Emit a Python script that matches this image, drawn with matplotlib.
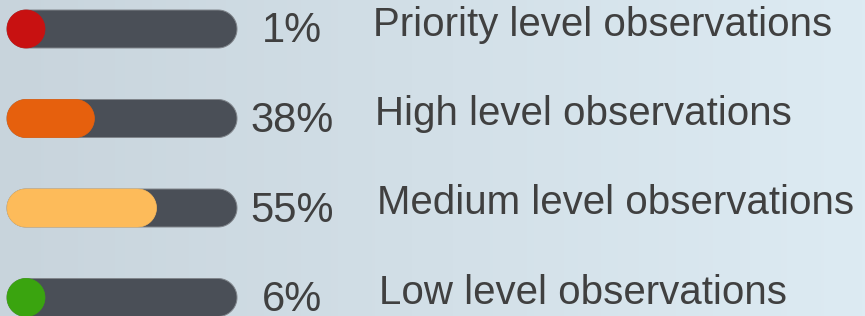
import numpy as np
import matplotlib
matplotlib.use("Agg")
import matplotlib.pyplot as plt
from matplotlib.patches import Polygon

# Daten
levels = ["Priority level observations", "High level observations",
          "Medium level observations", "Low level observations"]
percent_labels = ["1%", "38%", "55%", "6%"]
fill_values = [1, 38, 65, 6]   # length of the coloured fill as drawn (0-100)
fill_colors = ["#c81111", "#e6600d", "#fdbb5a", "#3aa40f"]

plt.rcParams['font.family'] = ['Liberation Sans', 'DejaVu Sans']

W, H = 865, 316
fig = plt.figure(figsize=(W / 100, H / 100), dpi=100)
ax = fig.add_axes([0, 0, 1, 1])
ax.set_xlim(0, W)
ax.set_ylim(H, 0)
ax.axis('off')

# Hintergrund-Verlauf
grad = np.linspace(0, 1, 256)
left = np.array([200, 212, 220]) / 255
right = np.array([221, 235, 243]) / 255
img = left[None, :] * (1 - grad[:, None]) + right[None, :] * grad[:, None]
ax.imshow(img[None, :, :], extent=[0, W, H, 0], aspect='auto', zorder=0)


def pill(x, yc, w, h, **kw):
    """Abgerundeter Balken (Pillenform) als Polygon."""
    r = h / 2
    t = np.linspace(-np.pi / 2, np.pi / 2, 40)
    right_x = x + w - r + r * np.cos(t)
    right_y = yc + r * np.sin(t)
    left_x = x + r - r * np.cos(t[::-1])
    left_y = yc + r * np.sin(t[::-1])
    pts = np.column_stack([np.r_[right_x, left_x], np.r_[right_y, left_y]])
    return Polygon(pts, closed=True, **kw)


track_x = 7
track_w = 230
bar_h = 38
first_y = 29
step = 89.5

for i, (name, pct, val, col) in enumerate(zip(levels, percent_labels, fill_values, fill_colors)):
    yc = first_y + i * step
    ax.add_patch(pill(track_x, yc, track_w, bar_h, facecolor="#4a4f57",
                      edgecolor="#80858b", linewidth=0.7, zorder=2))
    fw = max(val / 100 * track_w, bar_h)
    ax.add_patch(pill(track_x, yc, fw, bar_h, facecolor=col,
                      edgecolor=col, linewidth=0.5, zorder=3))
    ax.text(292, yc + 13.5, pct, fontsize=30, color="#404040",
            ha='center', va='baseline', zorder=4)
    ax.text(373 + i * 2, yc + 6.5, name, fontsize=29, color="#404040",
            ha='left', va='baseline', zorder=4)

fig.savefig("out.png", dpi=100)
